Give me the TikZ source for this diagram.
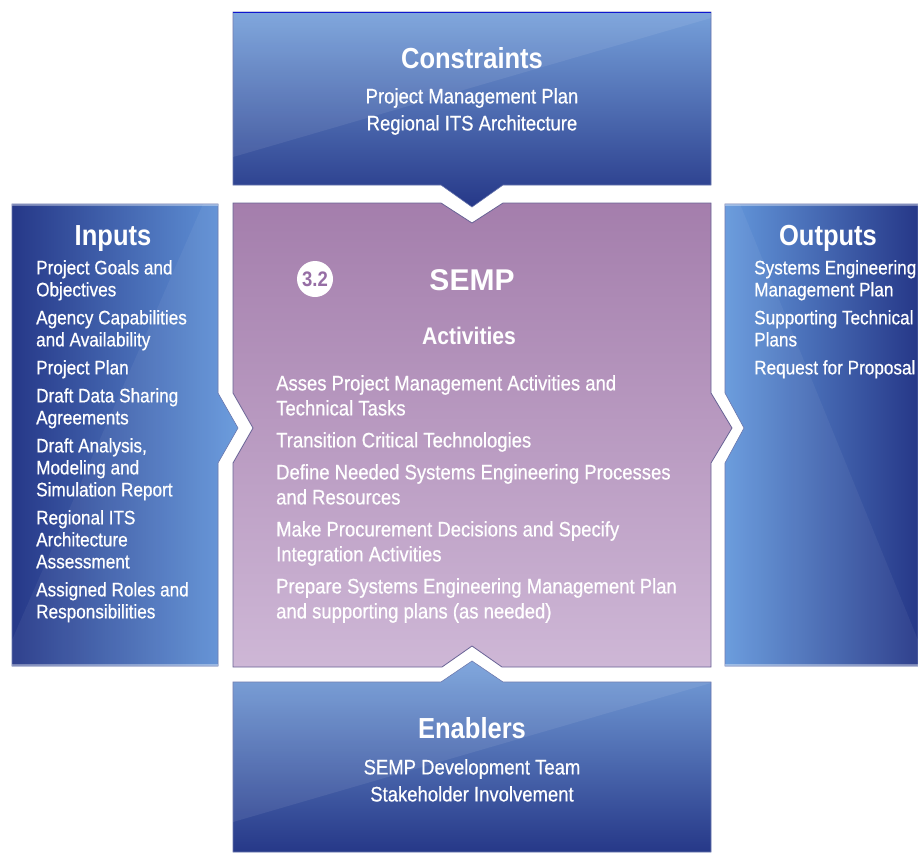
\documentclass[tikz,border=0pt]{standalone}
\usepackage{fontspec}
\setmainfont{Liberation Sans}[FakeStretch=0.88, UprightFeatures={FakeBold=0.6}]
\newfontfamily\sempfont{Liberation Sans}
\usetikzlibrary{positioning}
\definecolor{bluelight}{RGB}{118,160,218}
\definecolor{bluemid}{RGB}{72,110,188}
\definecolor{bluedark}{RGB}{38,56,136}
\definecolor{sidemid}{RGB}{74,116,196}
\definecolor{sidelight}{RGB}{100,152,220}
\definecolor{purpletop}{RGB}{164,126,172}
\definecolor{purplebot}{RGB}{206,183,214}
\definecolor{purpleedge}{RGB}{105,100,150}
\definecolor{purpletext}{RGB}{150,110,165}
\tikzstyle{title} = [text=white, font=\bfseries\fontsize{29}{33}\selectfont, inner sep=0, anchor=base]
\tikzstyle{sidelist} = [text=white, font=\fontsize{19.5}{22}\selectfont, align=left, anchor=north west, inner sep=0]
\tikzstyle{mainlist} = [text=white, font=\fontsize{21}{25}\selectfont, align=left, anchor=north west, inner sep=0]
\tikzstyle{midlist} = [text=white, font=\fontsize{21}{27}\selectfont, align=center, anchor=north, inner sep=0]
\tikzstyle{bluebox} = [draw=bluedark!70, line width=0.6pt]
\tikzstyle{gloss} = [fill=white, fill opacity=0.08]

\begin{document}
\begin{tikzpicture}[x=1pt, y=-1pt]
\useasboundingbox (0,0) rectangle (918,852);
\fill[white] (0,0) rectangle (918,852);

\shade[bluebox, top color=bluelight, middle color=bluemid, bottom color=bluedark]
  (233,12) -- (711,12) -- (711,185) -- (503,185) -- (472,207) -- (441,185) -- (233,185) -- cycle;
\fill[gloss] (233,12) -- (711,12) -- (711,18) -- (233,157) -- cycle;
\draw[line width=1.5pt, blue!60!bluedark] (233,12.5) -- (711,12.5);

\shade[bluebox, top color=bluelight, middle color=bluemid, bottom color=bluedark]
  (233,682) -- (441,682) -- (472,661) -- (503,682) -- (711,682) -- (711,852) -- (233,852) -- cycle;
\fill[gloss] (233,682) -- (441,682) -- (472,661) -- (503,682) -- (711,682) -- (711,683) -- (233,822) -- cycle;

\shade[bluebox, left color=bluedark, middle color=sidemid, right color=sidelight]
  (12,204) -- (218,204) -- (218,393) -- (238,428) -- (218,463) -- (218,666) -- (12,666) -- cycle;
\fill[gloss, fill opacity=0.05] (203,204) -- (218,204) -- (218,393) -- (238,428) -- (218,463) -- (218,666) -- (12,666) -- (12,640) -- cycle;
\draw[line width=1.2pt, white, opacity=0.35] (12,205) -- (218,205) (12,665) -- (218,665);

\shade[bluebox, left color=sidelight, middle color=sidemid, right color=bluedark]
  (725,204) -- (918,204) -- (918,666) -- (725,666) -- (725,463) -- (744,428) -- (725,393) -- cycle;
\fill[gloss, fill opacity=0.05] (725,204) -- (740,204) -- (918,640) -- (918,666) -- (725,666) -- (725,463) -- (744,428) -- (725,393) -- cycle;
\draw[line width=1.2pt, white, opacity=0.35] (725,205) -- (918,205) (725,665) -- (918,665);

\shade[draw=purpleedge, line width=0.8pt, top color=purpletop, bottom color=purplebot]
  (233,203) -- (441,203) -- (472,223) -- (503,203) -- (711,203) -- (711,393) -- (732,428) -- (711,463)
  -- (711,667) -- (502,667) -- (472,646) -- (442,667) -- (233,667) -- (233,463) -- (253,428) -- (233,393) -- cycle;

\node (constraints) [title] at (472,68) {Constraints};
\node (constrlist) [midlist] at (472,88) {Project Management Plan\\Regional ITS Architecture};

\node (inputs) [title] at (113,245) {Inputs};
\node (inputlist) [sidelist] at (36,260) {Project Goals and\\Objectives\\[6pt]
  Agency Capabilities\\and Availability\\[6pt]
  Project Plan\\[6pt]
  Draft Data Sharing\\Agreements\\[6pt]
  Draft Analysis,\\Modeling and\\Simulation Report\\[6pt]
  Regional ITS\\Architecture\\Assessment\\[6pt]
  Assigned Roles and\\Responsibilities};

\node (outputs) [title] at (828,245) {Outputs};
\node (outputlist) [sidelist] at (754,260) {Systems Engineering\\Management Plan\\[6pt]
  Supporting Technical\\Plans\\[6pt]
  Request for Proposal};

\node (stepno) [circle, fill=white, minimum size=36pt, inner sep=0, text=purpletext,
  font=\bfseries\fontsize{21}{21}\selectfont] at (315,279) {3.2};
\node (semp) [text=white, font=\sempfont\bfseries\fontsize{30}{32}\selectfont, inner sep=0, anchor=base] at (472,290) {SEMP};
\node (activities) [title, font=\bfseries\fontsize{24}{28}\selectfont] at (469,344) {Activities};
\node (actlist) [mainlist] at (276,375) {Asses Project Management Activities and\\Technical Tasks\\[7pt]
  Transition Critical Technologies\\[7pt]
  Define Needed Systems Engineering Processes\\and Resources\\[7pt]
  Make Procurement Decisions and Specify\\Integration Activities\\[7pt]
  Prepare Systems Engineering Management Plan\\and supporting plans (as needed)};

\node (enablers) [title] at (472,738) {Enablers};
\node (enablist) [midlist] at (472,759) {SEMP Development Team\\Stakeholder Involvement};
\end{tikzpicture}
\end{document}
